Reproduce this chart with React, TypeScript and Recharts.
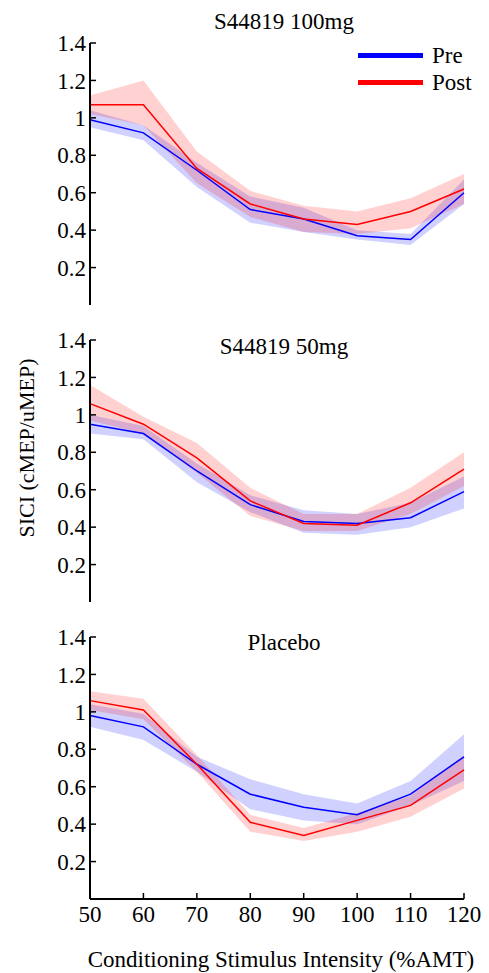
import { ComposedChart, Area, Line, XAxis, YAxis, Legend } from "recharts";

const intensity = [50, 60, 70, 80, 90, 100, 110, 120];
const yTicks = [0.2, 0.4, 0.6, 0.8, 1, 1.2, 1.4];
const seriesNames = ["Pre", "Post"];
const seriesColors = ["#0000ff", "#ff0000"];

// S44819 100mg
const pre100 = [0.99, 0.92, 0.72, 0.51, 0.46, 0.37, 0.35, 0.6];
const pre100Lo = [0.95, 0.88, 0.63, 0.44, 0.39, 0.35, 0.32, 0.54];
const pre100Hi = [1.04, 0.96, 0.76, 0.58, 0.52, 0.4, 0.38, 0.67];
const post100 = [1.07, 1.07, 0.73, 0.54, 0.46, 0.43, 0.5, 0.62];
const post100Lo = [1.02, 0.96, 0.65, 0.47, 0.39, 0.38, 0.41, 0.54];
const post100Hi = [1.12, 1.2, 0.82, 0.61, 0.53, 0.5, 0.57, 0.7];

// S44819 50mg
const pre50 = [0.95, 0.9, 0.7, 0.52, 0.43, 0.42, 0.45, 0.59];
const pre50Lo = [0.9, 0.87, 0.64, 0.48, 0.37, 0.36, 0.4, 0.5];
const pre50Hi = [1.0, 0.94, 0.74, 0.57, 0.49, 0.47, 0.53, 0.67];
const post50 = [1.06, 0.95, 0.77, 0.54, 0.42, 0.41, 0.53, 0.71];
const post50Lo = [0.97, 0.9, 0.69, 0.46, 0.38, 0.38, 0.47, 0.62];
const post50Hi = [1.16, 0.99, 0.85, 0.61, 0.47, 0.47, 0.61, 0.8];

// Placebo
const prePla = [0.98, 0.92, 0.72, 0.56, 0.49, 0.45, 0.56, 0.76];
const prePlaLo = [0.92, 0.85, 0.68, 0.48, 0.42, 0.4, 0.5, 0.63];
const prePlaHi = [1.04, 0.99, 0.76, 0.64, 0.56, 0.51, 0.63, 0.88];
const postPla = [1.06, 1.01, 0.72, 0.41, 0.34, 0.42, 0.5, 0.69];
const postPlaLo = [1.01, 0.96, 0.68, 0.36, 0.31, 0.36, 0.44, 0.59];
const postPlaHi = [1.11, 1.07, 0.77, 0.45, 0.38, 0.46, 0.55, 0.77];

const FONT = '"Liberation Serif", "Times New Roman", serif';
const PLOT_H = 262;

function buildRows(
  pre: number[], preLo: number[], preHi: number[],
  post: number[], postLo: number[], postHi: number[]
) {
  return intensity.map((x, i) => ({
    x,
    pre: pre[i],
    preBand: [preLo[i], preHi[i]],
    post: post[i],
    postBand: [postLo[i], postHi[i]],
  }));
}

const renderLegend = () => (
  <div style={{ fontFamily: FONT }}>
    {seriesNames.map((name, i) => (
      <div key={name} style={{ display: "flex", alignItems: "center", height: 27 }}>
        <span style={{ display: "inline-block", width: 65, height: 5, background: seriesColors[i], marginRight: 9 }} />
        <span style={{ fontSize: 23, lineHeight: "23px", color: "#000" }}>{name}</span>
      </div>
    ))}
  </div>
);

type PanelProps = {
  data: ReturnType<typeof buildRows>;
  top: number;
  height: number;
  marginTop: number;
  showLegend?: boolean;
  showXLabels?: boolean;
};

function Panel({ data, top, height, marginTop, showLegend, showXLabels }: PanelProps) {
  const xHeight = showXLabels ? 74 : 0;
  const bottom = height - marginTop - PLOT_H - xHeight;
  return (
    <div style={{ position: "absolute", left: 0, top, width: 489, height }}>
      <ComposedChart
        width={489}
        height={height}
        data={data}
        margin={{ top: marginTop, right: 25, bottom, left: 0 }}
      >
        <XAxis
          dataKey="x"
          type="number"
          domain={[50, 120]}
          ticks={intensity}
          height={xHeight}
          tick={showXLabels ? { fill: "#000", fontSize: 23, fontFamily: FONT } : false}
          tickSize={-6}
          tickMargin={13}
          axisLine={{ stroke: "#000", strokeWidth: 2 }}
          tickLine={{ stroke: "#000", strokeWidth: 1.5 }}
        />
        <YAxis
          type="number"
          domain={[0, 1.4]}
          ticks={yTicks}
          width={90}
          tickSize={-6}
          tickMargin={10}
          tickFormatter={(v: number) => String(v)}
          tick={{ fill: "#000", fontSize: 23, fontFamily: FONT }}
          axisLine={{ stroke: "#000", strokeWidth: 2 }}
          tickLine={{ stroke: "#000", strokeWidth: 1.5 }}
        />
        <Area
          type="linear"
          dataKey="preBand"
          stroke="none"
          fill="#0000ff"
          fillOpacity={0.18}
          isAnimationActive={false}
          activeDot={false}
        />
        <Area
          type="linear"
          dataKey="postBand"
          stroke="none"
          fill="#ff0000"
          fillOpacity={0.18}
          isAnimationActive={false}
          activeDot={false}
        />
        <Line
          type="linear"
          dataKey="pre"
          stroke={seriesColors[0]}
          strokeWidth={1.5}
          dot={false}
          activeDot={false}
          isAnimationActive={false}
        />
        <Line
          type="linear"
          dataKey="post"
          stroke={seriesColors[1]}
          strokeWidth={1.5}
          dot={false}
          activeDot={false}
          isAnimationActive={false}
        />
        {showLegend && (
          <Legend
            layout="horizontal"
            verticalAlign="middle"
            align="center"
            content={renderLegend}
            wrapperStyle={{ left: 358, top: 42, width: 125, height: 54 }}
          />
        )}
      </ComposedChart>
    </div>
  );
}

const titleStyle = (top: number): React.CSSProperties => ({
  position: "absolute",
  left: 184,
  top,
  width: 200,
  textAlign: "center",
  fontSize: 23,
  lineHeight: "24px",
  color: "#000",
});

export default function App() {
  return (
    <div style={{ position: "absolute", left: 0, top: 0, width: 489, height: 973, background: "#fff", fontFamily: FONT }}>
      <Panel
        data={buildRows(pre100, pre100Lo, pre100Hi, post100, post100Lo, post100Hi)}
        top={0}
        height={310}
        marginTop={43}
        showLegend
      />
      <Panel
        data={buildRows(pre50, pre50Lo, pre50Hi, post50, post50Lo, post50Hi)}
        top={310}
        height={300}
        marginTop={30}
      />
      <Panel
        data={buildRows(prePla, prePlaLo, prePlaHi, postPla, postPlaLo, postPlaHi)}
        top={610}
        height={363}
        marginTop={27}
        showXLabels
      />
      <div style={titleStyle(10)}>S44819 100mg</div>
      <div style={titleStyle(335)}>S44819 50mg</div>
      <div style={titleStyle(631)}>Placebo</div>
      <div
        style={{
          position: "absolute",
          left: 27 - 120,
          top: 448 - 12,
          width: 240,
          height: 24,
          lineHeight: "24px",
          textAlign: "center",
          fontSize: 22,
          transform: "rotate(-90deg)",
          color: "#000",
        }}
      >
        SICI (cMEP/uMEP)
      </div>
      <div
        style={{
          position: "absolute",
          left: 281 - 230,
          top: 948,
          width: 460,
          lineHeight: "24px",
          textAlign: "center",
          fontSize: 23,
          color: "#000",
        }}
      >
        Conditioning Stimulus Intensity (%AMT)
      </div>
    </div>
  );
}
